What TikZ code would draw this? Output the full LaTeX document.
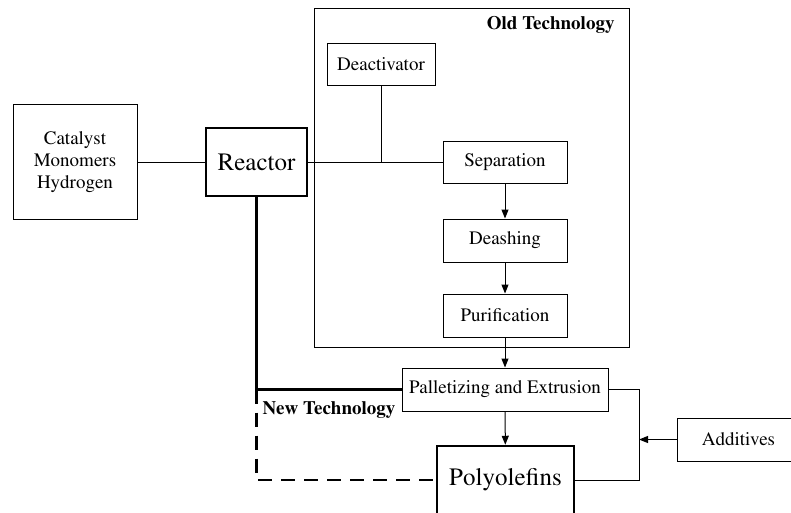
\documentclass[tikz,border=0pt]{standalone}
\usepackage[T1]{fontenc}
\renewcommand{\rmdefault}{ptm}
\usetikzlibrary{arrows.meta}
\begin{document}
\begin{tikzpicture}[x=1pt,y=-1pt,
  line width=1pt,
  base/.style={font=\fontsize{19}{22}\selectfont},
  unit/.style={base, draw, inner sep=0pt, minimum width=124pt, minimum height=43pt},
  major/.style={draw, line width=2.5pt, inner sep=0pt, font=\fontsize{25}{28}\selectfont},
  heading/.style={font=\fontsize{19}{22}\selectfont\bfseries, inner sep=0pt},
  flow/.style={-{Triangle[length=9pt,width=7pt]}},
  thick link/.style={line width=2.5pt},
]
\useasboundingbox (0,0) rectangle (791,512);

% old-technology frame
\draw (314,8) rectangle (629,347);
\node[heading, anchor=east] (oldlbl) at (615,25) {Old Technology};

% feed and reactor
\node[base, draw, inner sep=0pt, minimum width=124pt, minimum height=115pt, align=center] (feed) at (75,162) {Catalyst\\Monomers\\Hydrogen};
\node[major, minimum width=101pt, minimum height=68pt] (reactor) at (256.5,162) {Reactor};

% conventional train
\node[unit, minimum width=108pt, minimum height=42pt] (deact) at (381,64) {Deactivator};
\node[unit, minimum height=42pt] (sep) at (505,162) {Separation};
\node[unit] (deash) at (505,240.5) {Deashing};
\node[unit] (pur) at (505,315.5) {Purification};
\node[unit, minimum width=206pt] (pal) at (505,389.5) {Palletizing and Extrusion};

% product and additives
\node[major, minimum width=137pt, minimum height=68pt] (poly) at (505.5,480) {Polyolefins};
\node[unit, minimum width=123pt] (add) at (738.5,439.5) {Additives};

\node[heading, anchor=west] (newlbl) at (262,410) {New Technology};

% connectors
\draw (feed.east) -- (reactor.west);
\draw (reactor.east) -- (sep.west);
\coordinate (tee) at (deact.south |- sep.west);
\draw (deact.south) -- (tee);
\draw[flow] (sep) -- (deash);
\draw[flow] (deash) -- (pur);
\draw[flow] (pur) -- (pal);
\draw[flow] (pal) -- (poly);

\coordinate (bend) at (reactor.south |- pal.west);
\draw[thick link] (reactor.south) -- (bend) -- (pal.west);
\draw[thick link, dash pattern=on 14pt off 9pt] (bend) -- (bend |- poly.west) -- (poly.west);

\coordinate (mix) at (639,439.5);
\draw (pal.east) -| (mix) |- (poly.east);
\draw[flow] (add.west) -- (mix);
\end{tikzpicture}
\end{document}
